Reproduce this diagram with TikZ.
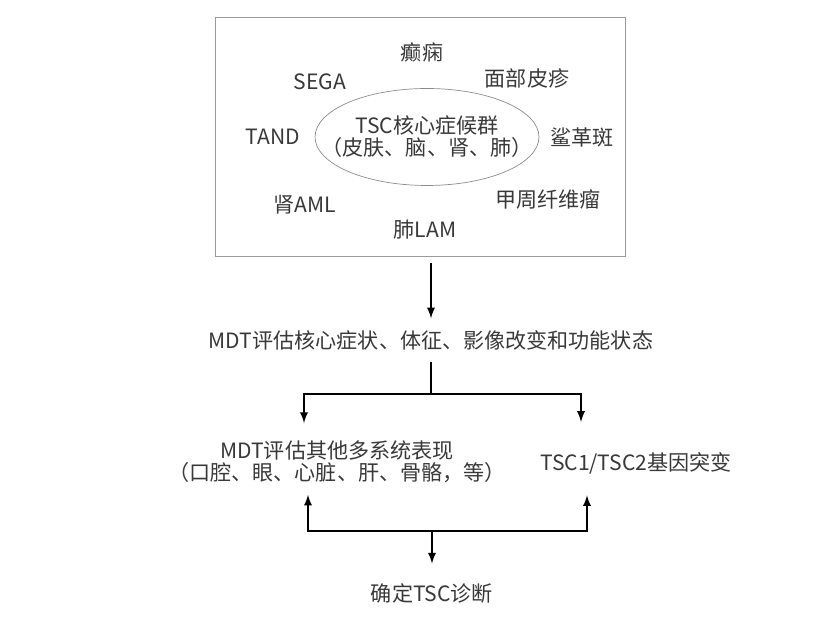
\documentclass[tikz,border=0pt]{standalone}
\usepackage{fontspec}
\setmainfont{Noto Sans CJK SC}
\usetikzlibrary{arrows,positioning,shapes.geometric}

\begin{document}
\begin{tikzpicture}[x=0.02cm,y=-0.02cm,
  txt/.style={text=black!78,font=\fontsize{12}{12.5}\selectfont,align=center,inner sep=1pt},
  line/.style={line width=1.1pt},
  arr/.style={line width=1.1pt,->,>=latex}]
\useasboundingbox (0,0) rectangle (835,617);
% symptom box
\node[draw=black!40,minimum width=8.2cm,minimum height=4.78cm] (box) at (420,136.5) {};
\node[txt] (core) at (427,137) {TSC核心症候群\\（皮肤、脑、肾、肺）};
\draw[black!45] (core.center) ellipse [x radius=2.24cm, y radius=0.97cm];
\node[txt] (ep) at (422,52) {癫痫};
\node[txt] (sega) at (320,82) {SEGA};
\node[txt] (rash) at (527,78) {面部皮疹};
\node[txt] (tand) at (273,137) {TAND};
\node[txt] (shag) at (582,137) {鲨革斑};
\node[txt] (aml) at (305,205) {肾AML};
\node[txt] (ungual) at (548,200) {甲周纤维瘤};
\node[txt] (lam) at (425,230) {肺LAM};
% flow
\node[txt] (mdt) at (431,340) {MDT评估核心症状、体征、影像改变和功能状态};
\node[txt] (other) at (337,462) {MDT评估其他多系统表现\\（口腔、眼、心脏、肝、骨骼，等）};
\node[txt] (gene) at (636,463) {TSC1/TSC2基因突变};
\node[txt] (dx) at (432,593) {确定TSC诊断};
\coordinate (fork) at (431,394);
\coordinate (fl) at (304,394);
\coordinate (fr) at (581,394);
\coordinate (join) at (432,531);
\coordinate (jl) at (308,531);
\coordinate (jr) at (587,531);
\draw[arr,shorten <=4pt,shorten >=5.5pt] (box.south -| mdt) -- (mdt);
\draw[line,shorten <=5.5pt] (mdt) -- (fork);
\draw[arr,shorten >=9pt] (fork) -- (fl) -- (fl |- other.north);
\draw[arr,shorten >=16pt] (fork) -- (fr) -- (fr |- gene.north);
\draw[arr,shorten >=5.5pt] (join) -- (jl) -- (jl |- other.south);
\draw[arr,shorten >=11pt] (join) -- (jr) -- (jr |- gene.south);
\draw[arr,shorten >=10pt] (join) -- (dx);
\end{tikzpicture}
\end{document}
